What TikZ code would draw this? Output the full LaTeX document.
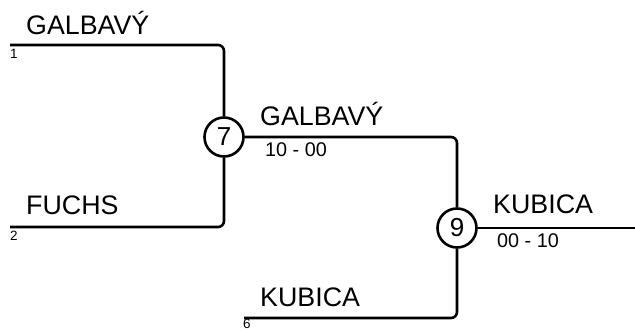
\documentclass[tikz,border=0pt]{standalone}
\usepackage{fontspec}
\setmainfont{Liberation Sans}
\begin{document}
\begin{tikzpicture}[x=1pt,y=-1pt,
  conn/.style={line width=2.6pt, rounded corners=6pt},
  plname/.style={font=\fontsize{26.8}{26.8}\selectfont, anchor=base west, inner sep=0pt},
  plscore/.style={font=\fontsize{19.8}{19.8}\selectfont, anchor=base west, inner sep=0pt},
  plseed/.style={font=\fontsize{13.5}{13.5}\selectfont, anchor=base west, inner sep=0pt},
  match/.style={draw, circle, line width=2.6pt, minimum size=39pt, inner sep=0pt, font=\fontsize{26}{26}\selectfont}]
\useasboundingbox (0,0) rectangle (635,331);
% match nodes
\node[match] (m7) at (224,137) {7};
\node[match] (m9) at (457,228) {9};
% line starts
\coordinate (s1) at (10,45);
\coordinate (s2) at (10,227);
\coordinate (s6) at (244,318);
\coordinate (e9) at (635,228);
% connectors
\draw[conn] (s1) -| (m7);
\draw[conn] (s2) -| (m7);
\draw[conn] (m7) -| (m9);
\draw[conn] (s6) -| (m9);
\draw[conn] (m9) -- (e9);
% names
\node[plname] (n1) at (26,35) {GALBAVÝ};
\node[plname] (n2) at (26,215) {FUCHS};
\node[plname] (n7) at (260,126) {GALBAVÝ};
\node[plname] (n6) at (260,307) {KUBICA};
\node[plname] (n9) at (493,214) {KUBICA};
% scores
\node[plscore] (sc7) at (265,157) {10 - 00};
\node[plscore] (sc9) at (497,248) {00 - 10};
% seeds
\node[plseed] (d1) at (10,59) {1};
\node[plseed] (d2) at (10,241) {2};
\node[plseed] (d6) at (243,328.5) {6};
\end{tikzpicture}
\end{document}
